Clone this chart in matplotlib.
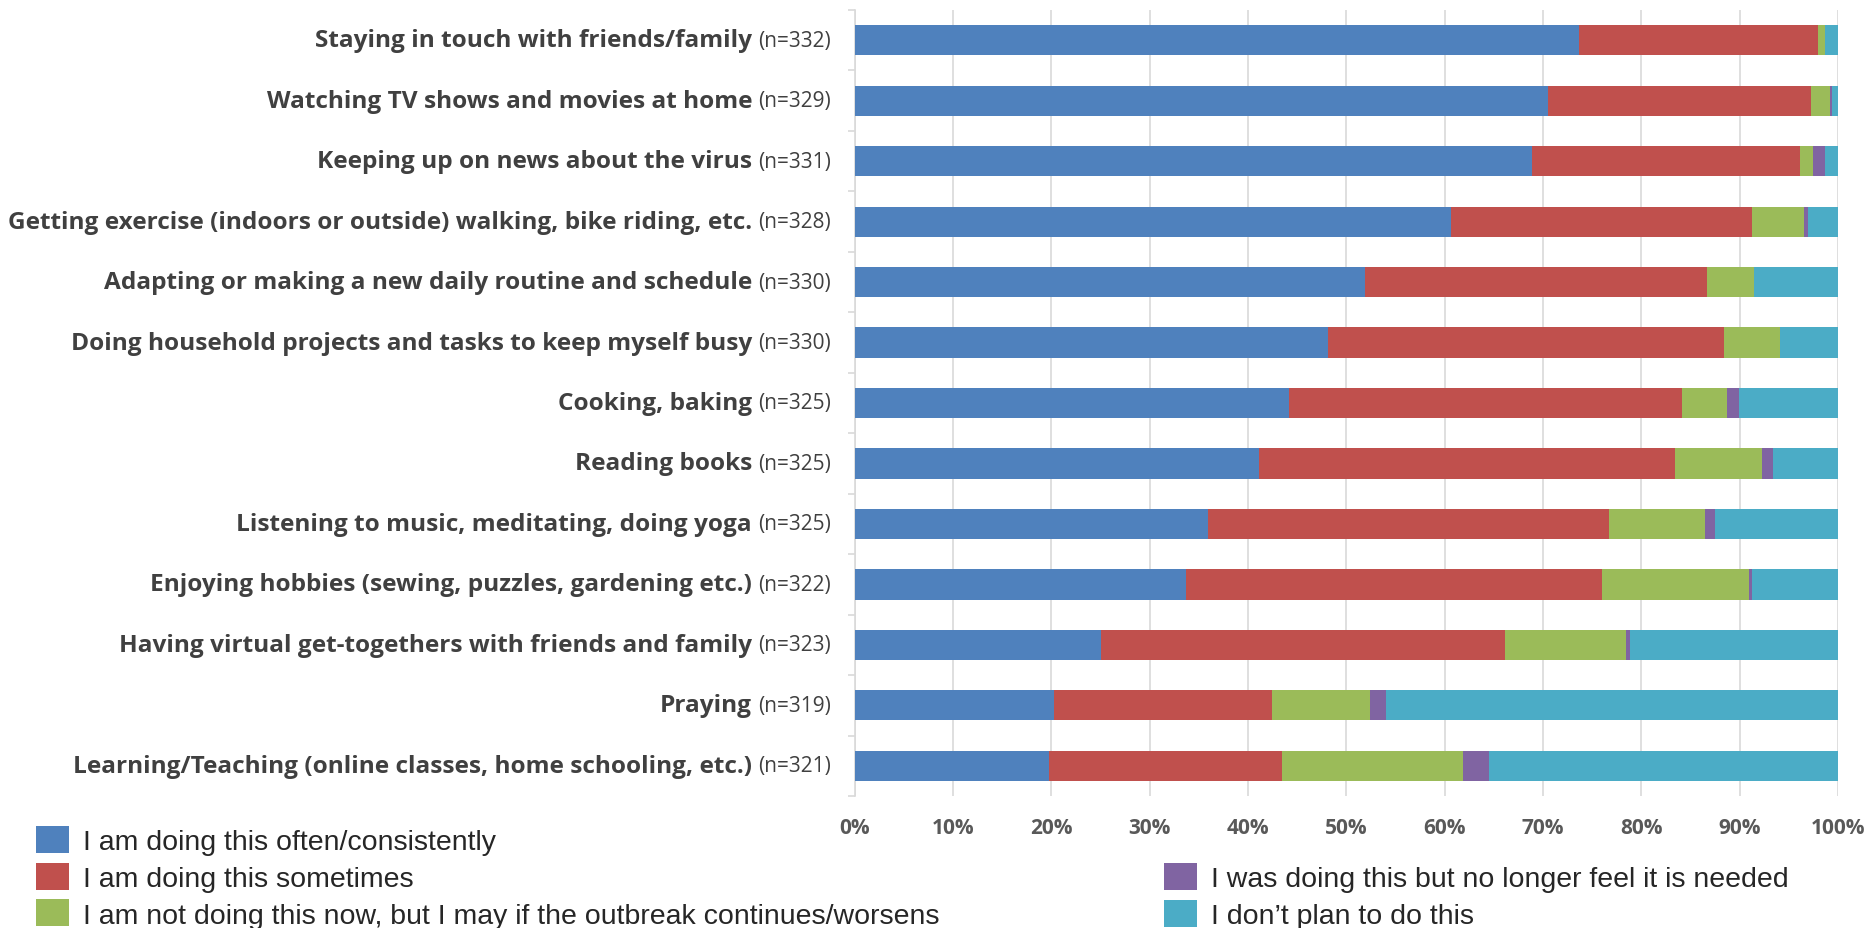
import numpy as np
import matplotlib
matplotlib.use('Agg')
from matplotlib import pyplot as plt
from matplotlib import font_manager
from matplotlib.patches import Patch

activities = [
    'Staying in touch with friends/family',
    'Watching TV shows and movies at home',
    'Keeping up on news about the virus',
    'Getting exercise (indoors or outside) walking, bike riding, etc.',
    'Adapting or making a new daily routine and schedule',
    'Doing household projects and tasks to keep myself busy',
    'Cooking, baking',
    'Reading books',
    'Listening to music, meditating, doing yoga',
    'Enjoying hobbies (sewing, puzzles, gardening etc.)',
    'Having virtual get-togethers with friends and family',
    'Praying',
    'Learning/Teaching (online classes, home schooling, etc.)',
]
n_resp = [332, 329, 331, 328, 330, 330, 325, 325, 325, 322, 323, 319, 321]

# percent of respondents per answer
often = [73.7, 70.5, 68.9, 60.7, 51.9, 48.1, 44.2, 41.1, 35.9, 33.7, 25.1, 20.3, 19.8]
sometimes = [24.3, 26.8, 27.2, 30.6, 34.8, 40.3, 39.9, 42.3, 40.8, 42.3, 41.0, 22.2, 23.7]
maybe = [0.7, 1.9, 1.4, 5.2, 4.8, 5.7, 4.6, 8.9, 9.8, 14.9, 12.3, 9.9, 18.4]
no_longer = [0.0, 0.2, 1.2, 0.5, 0.0, 0.0, 1.2, 1.1, 1.0, 0.4, 0.5, 1.6, 2.6]
no_plan = [1.3, 0.6, 1.3, 3.0, 8.5, 5.9, 10.1, 6.6, 12.5, 8.7, 21.1, 46.0, 35.5]

answers = [
    'I am doing this often/consistently',
    'I am doing this sometimes',
    'I am not doing this now, but I may if the outbreak continues/worsens',
    'I was doing this but no longer feel it is needed',
    'I don\u2019t plan to do this',
]
colors = ['#4F81BD', '#C0504D', '#9BBB59', '#8064A2', '#4BACC6']
x_ticks = np.arange(0, 101, 10)

avail = {f.name for f in font_manager.fontManager.ttflist}
def pick(*names):
    for nm in names:
        if nm in avail:
            return nm
    return 'DejaVu Sans'

narrow = pick('Liberation Sans Narrow', 'Open Sans', 'Liberation Sans')
plain = pick('Liberation Sans', 'DejaVu Sans')

fig = plt.figure(figsize=(18.68, 9.29), dpi=100)
ax = fig.add_axes([854.5 / 1868, 1 - 797 / 929, (1838 - 854.5) / 1868, (797 - 11) / 929])

y = np.arange(len(activities))
left = np.zeros(len(activities))
series = [often, sometimes, maybe, no_longer, no_plan]
for vals, col in zip(series, colors):
    vals = np.array(vals)
    ax.barh(y, vals, left=left, height=0.5, color=col, zorder=3)
    left += vals

ax.set_xlim(0, 100)
ax.set_ylim(len(activities) - 0.5, -0.5)
ax.set_xticks(x_ticks)
ax.set_xticklabels([f'{v}%' for v in x_ticks], fontfamily=narrow, fontweight='bold',
                   fontsize=15, color='#595959')
ax.tick_params(axis='x', length=0, pad=15)
ax.grid(axis='x', color='#D9D9D9', linewidth=1.2, zorder=0)

ax.set_yticks([])
ax.set_yticks(np.arange(-0.5, len(activities)), minor=True)
ax.tick_params(axis='y', which='minor', length=5, color='#D9D9D9', width=1.2)
ax.yaxis.set_minor_formatter(plt.NullFormatter())

for s in ['top', 'right', 'bottom']:
    ax.spines[s].set_visible(False)
ax.spines['left'].set_color('#D9D9D9')
ax.spines['left'].set_linewidth(1.2)

trans = ax.get_yaxis_transform()
for i, (name, n) in enumerate(zip(activities, n_resp)):
    ax.text((752 - 854.5) / 984, i, name, transform=trans, ha='right', va='center',
            fontfamily=narrow, fontweight='bold', fontsize=17.6, color='#404040')
    ax.text((831 - 854.5) / 984, i, f'(n={n})', transform=trans, ha='right', va='center',
            fontfamily=narrow, fontsize=15, color='#404040')

handles = [Patch(facecolor=c) for c in colors]
leg_kw = dict(frameon=False, prop={'family': plain, 'size': 20.5}, handlelength=1.16,
              handleheight=1.09, handletextpad=0.49, labelspacing=0.26,
              borderpad=0, borderaxespad=0, labelcolor='#262626')
leg1 = fig.legend(handles[:3], answers[:3], loc='upper left',
                  bbox_to_anchor=(36 / 1868, 1 - 827 / 929), **leg_kw)
leg2 = fig.legend(handles[3:], answers[3:], loc='upper left',
                  bbox_to_anchor=(1164 / 1868, 1 - 864 / 929), **leg_kw)

fig.savefig('out.png', dpi=100)
